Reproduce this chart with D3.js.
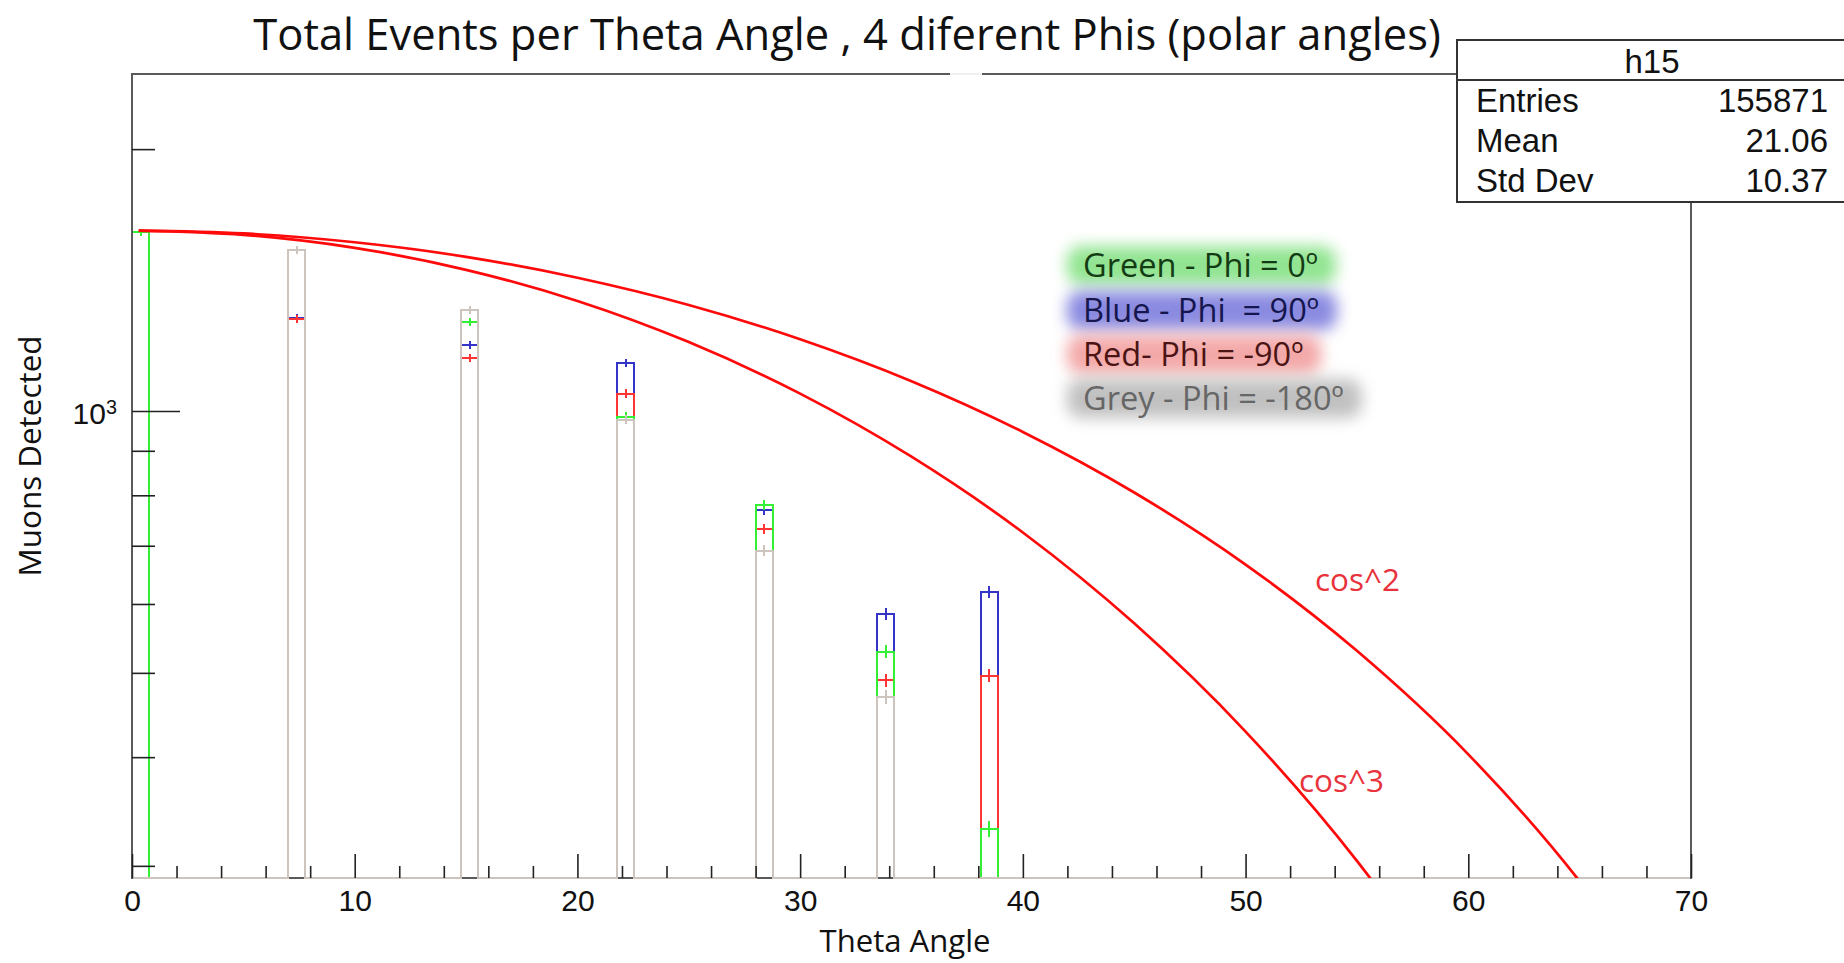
<!DOCTYPE html>
<html><head><meta charset="utf-8">
<script src="https://cdn.jsdelivr.net/npm/d3@7"></script>
<style>body{margin:0;background:#fff;overflow:hidden}svg{display:block}</style>
</head><body>
<svg id="chart" width="1844" height="963"></svg>
<script>
// ---------------- data ----------------
const nBins = 90, thetaMin = 0, thetaMax = 70;          // histogram binning
const binIndex = [0, 9, 19, 28, 36, 43, 49];             // theta bins that hold entries
const greenPhi0   = [1604, 1531, 1266, 985, 780, 529, 331];
const bluePhi90   = [null, 1280, 1192, 1136, 769, 585, 619];
const redPhiM90   = [null, 1276, 1151, 1047, 732, 490, 496];
const greyPhiM180 = [null, 1531, 1306, 977, 691, 469, null];
const greenErr = [15, 14.9, 13.5, 11.9, 10.6, 8.7, 6.9];
const blueErr  = [null, 13.6, 13.1, 12.8, 10.5, 9.2, 9.5];
const redErr   = [null, 13.6, 12.9, 12.3, 10.3, 8.4, 8.5];
const greyErr  = [null, 14.9, 13.7, 11.9, 10.0, 8.2, null];

const cos2Theta = [0.3, 5, 10, 15, 20, 25, 30, 35, 40, 45, 50, 55, 60, 65, 67];
const cos2Vals  = [1612, 1600, 1563, 1504, 1423, 1324, 1209, 1082, 946, 806, 666, 530, 403, 288, 246];
const cos3Theta = [0.3, 5, 10, 15, 20, 25, 30, 35, 40, 45, 50, 55, 57];
const cos3Vals  = [1612, 1594, 1540, 1453, 1338, 1200, 1047, 886, 725, 570, 428, 304, 260];

const xTicksMajor = [0, 10, 20, 30, 40, 50, 60, 70];
const xTicksMinor = [2, 4, 6, 8, 12, 14, 16, 18, 22, 24, 26, 28, 32, 34, 36, 38, 42, 44, 46, 48, 52, 54, 56, 58, 62, 64, 66, 68];
const yTicksMajor = [1000];
const yTicksMinor = [300, 400, 500, 600, 700, 800, 900, 2000];
const yDomain = [290.5, 2440];

const titleText = "Total Events per Theta Angle , 4 diferent Phis (polar angles)";
const xTitle = "Theta Angle", yTitle = "Muons Detected";
const legendLabels = ["Green - Phi = 0º", "Blue - Phi  = 90º", "Red- Phi = -90º", "Grey - Phi = -180º"];
const statsName = "h15";
const statsLabels = ["Entries", "Mean", "Std Dev"];
const statsValues = ["155871", "21.06", "10.37"];
const curveLabels = ["cos^2", "cos^3"];

// ---------------- layout ----------------
const L = 132, R = 1691, T = 74, B = 878;
const svg = d3.select("#chart");
const x = d3.scaleLinear().domain([thetaMin, thetaMax]).range([L, R]);
const y = d3.scaleLog().domain(yDomain).range([B, T]);
const binW = (thetaMax - thetaMin) / nBins;

const defs = svg.append("defs");
defs.append("clipPath").attr("id", "clipHist").append("rect")
  .attr("x", L + 1).attr("y", T).attr("width", R - L - 2).attr("height", B - T + 1.5);
defs.append("clipPath").attr("id", "clipCurve").append("rect")
  .attr("x", L).attr("y", T).attr("width", R - L).attr("height", B - T);
const blur = defs.append("filter").attr("id", "glow")
  .attr("x", "-30%").attr("y", "-100%").attr("width", "160%").attr("height", "300%");
blur.append("feGaussianBlur").attr("stdDeviation", 7.5);

// frame
svg.append("rect").attr("x", L).attr("y", T).attr("width", R - L).attr("height", B - T)
  .attr("fill", "none").attr("stroke", "#5a5a5a").attr("stroke-width", 2);

// histograms (draw order: blue, red, green, grey)
const series = [
  {vals: bluePhi90,   err: blueErr,  color: "#3434c8"},
  {vals: redPhiM90,   err: redErr,   color: "#ff3434"},
  {vals: greenPhi0,   err: greenErr, color: "#34f034"},
  {vals: greyPhiM180, err: greyErr,  color: "#cdc5bd"}
];
const histG = svg.append("g").attr("clip-path", "url(#clipHist)");
const stepLine = d3.line().x(d => d[0]).y(d => d[1]).curve(d3.curveStepAfter);
series.forEach(s => {
  const full = new Array(nBins).fill(0);
  binIndex.forEach((b, i) => { if (s.vals[i] != null) full[b] = s.vals[i]; });
  const pts = [[x(thetaMin), B]];
  full.forEach((v, i) => pts.push([x(thetaMin + i * binW), v > 0 ? y(v) : B]));
  pts.push([x(thetaMax), B]);
  histG.append("path").attr("d", stepLine(pts)).attr("fill", "none")
    .attr("stroke", s.color).attr("stroke-width", 2).attr("shape-rendering", "crispEdges");
  binIndex.forEach((b, i) => {
    const v = s.vals[i]; if (v == null) return;
    const cx = x(thetaMin + (b + 0.5) * binW);
    histG.append("line").attr("x1", cx).attr("x2", cx)
      .attr("y1", y(v + s.err[i])).attr("y2", y(v - s.err[i]))
      .attr("stroke", s.color).attr("stroke-width", 2).attr("shape-rendering", "crispEdges");
  });
});

// curves
const curveLine = d3.line().x(d => x(d[0])).y(d => y(d[1])).curve(d3.curveMonotoneX);
const cg = svg.append("g").attr("clip-path", "url(#clipCurve)");
cg.append("path").attr("d", curveLine(cos2Theta.map((t, i) => [t, cos2Vals[i]])))
  .attr("fill", "none").attr("stroke", "#ff0a0a").attr("stroke-width", 2.7);
cg.append("path").attr("d", curveLine(cos3Theta.map((t, i) => [t, cos3Vals[i]])))
  .attr("fill", "none").attr("stroke", "#ff0a0a").attr("stroke-width", 2.7);

// axes
function styleAxis(g) {
  g.select(".domain").remove();
  g.selectAll(".tick line").attr("stroke", "#222").attr("stroke-width", 1.6);
  g.selectAll("text").attr("font-family", "'Liberation Sans', Arial, sans-serif")
    .attr("font-size", 30).attr("fill", "#111");
}
svg.append("g").attr("transform", `translate(0,${B})`)
  .call(d3.axisBottom(x).tickValues(xTicksMajor).tickSizeInner(-24).tickSizeOuter(0).tickPadding(12).tickFormat(d3.format("d")))
  .call(styleAxis);
svg.append("g").attr("transform", `translate(0,${B})`)
  .call(d3.axisBottom(x).tickValues(xTicksMinor).tickSizeInner(-12).tickSizeOuter(0).tickFormat(""))
  .call(styleAxis);
const yAx = svg.append("g").attr("transform", `translate(${L},0)`)
  .call(d3.axisLeft(y).tickValues(yTicksMajor).tickSizeInner(-48).tickSizeOuter(0).tickPadding(15).tickFormat(d => "10"))
  .call(styleAxis);
yAx.selectAll(".tick text").attr("dy", "0.42em").each(function (d) {
  const t = d3.select(this);
  t.text("10");
  t.append("tspan").attr("dy", "-0.5em").attr("font-size", "0.66em").text(String(Math.round(Math.log10(d))));
});
svg.append("g").attr("transform", `translate(${L},0)`)
  .call(d3.axisLeft(y).tickValues(yTicksMinor).tickSizeInner(-23).tickSizeOuter(0).tickFormat(""))
  .call(styleAxis);

// helper to fit text width
function fitWidth(sel, target) {
  const fs = parseFloat(sel.attr("font-size"));
  const w = sel.node().getComputedTextLength();
  const nf = fs * target / w;
  sel.attr("font-size", nf);
  return nf;
}
const uiFont = "'Open Sans', 'Noto Sans', sans-serif";

// axis titles
const xt = svg.append("text").attr("x", 905).attr("y", 952).attr("text-anchor", "middle")
  .attr("font-family", uiFont).attr("font-size", 28).attr("fill", "#111").text(xTitle);
fitWidth(xt, 171);
const yt = svg.append("text").attr("transform", "translate(41,456) rotate(-90)").attr("text-anchor", "middle")
  .attr("font-family", uiFont).attr("font-size", 28).attr("fill", "#111").text(yTitle);
fitWidth(yt, 241);

// title
const tt = svg.append("text").attr("x", 847).attr("y", 50).attr("text-anchor", "middle")
  .attr("font-family", uiFont).attr("font-size", 38).attr("fill", "#111").text(titleText);
fitWidth(tt, 1188);

// small gap in top frame line
svg.append("rect").attr("x", 950).attr("y", 71).attr("width", 32).attr("height", 6).attr("fill", "#fff").attr("opacity", 0.9);

// stats box
const statFont = "'Liberation Sans', Arial, sans-serif";
const sb = svg.append("g");
sb.append("rect").attr("x", 1457).attr("y", 40).attr("width", 420).attr("height", 162)
  .attr("fill", "#fff").attr("stroke", "#333").attr("stroke-width", 2);
sb.append("line").attr("x1", 1457).attr("x2", 1844).attr("y1", 80).attr("y2", 80)
  .attr("stroke", "#333").attr("stroke-width", 2);
sb.append("text").attr("x", 1652).attr("y", 73).attr("text-anchor", "middle")
  .attr("font-family", statFont).attr("font-size", 33).attr("fill", "#111").text(statsName);
statsLabels.forEach((lab, i) => {
  sb.append("text").attr("x", 1476).attr("y", 112 + i * 40)
    .attr("font-family", statFont).attr("font-size", 33).attr("fill", "#111").text(lab);
  sb.append("text").attr("x", 1828).attr("y", 112 + i * 40).attr("text-anchor", "end")
    .attr("font-family", statFont).attr("font-size", 33).attr("fill", "#111").text(statsValues[i]);
});

// legend with glow highlights
const legBase = [277, 322, 366, 410];
const legText = ["#143c14", "#16164e", "#4a1414", "#666666"];
const legGlow = ["#7fe07f", "#7676dc", "#f29a9a", "#b6b6b6"];
const lg = svg.append("g");
const glowG = lg.append("g");
const texts = legendLabels.map((lab, i) => lg.append("text").attr("x", 1083).attr("y", legBase[i])
  .attr("font-family", uiFont).attr("font-size", 30).attr("fill", legText[i])
  .attr("xml:space", "preserve").style("white-space", "pre").text(lab));
const lfs = fitWidth(texts[0], 235);
texts.forEach(t => t.attr("font-size", lfs));
texts.forEach((t, i) => {
  const bb = t.node().getBBox();
  glowG.append("rect").attr("x", bb.x - 16).attr("y", bb.y + 4).attr("width", bb.width + 34).attr("height", bb.height - 6)
    .attr("rx", 14).attr("fill", legGlow[i]).attr("opacity", 0.85).attr("filter", "url(#glow)");
});

// curve labels
const c2 = svg.append("text").attr("x", 1315).attr("y", 591).attr("font-family", uiFont)
  .attr("font-size", 30).attr("fill", "#e8323c").text(curveLabels[0]);
const cfs = fitWidth(c2, 85);
svg.append("text").attr("x", 1299).attr("y", 792).attr("font-family", uiFont)
  .attr("font-size", cfs).attr("fill", "#e8323c").text(curveLabels[1]);
</script>
</body></html>
